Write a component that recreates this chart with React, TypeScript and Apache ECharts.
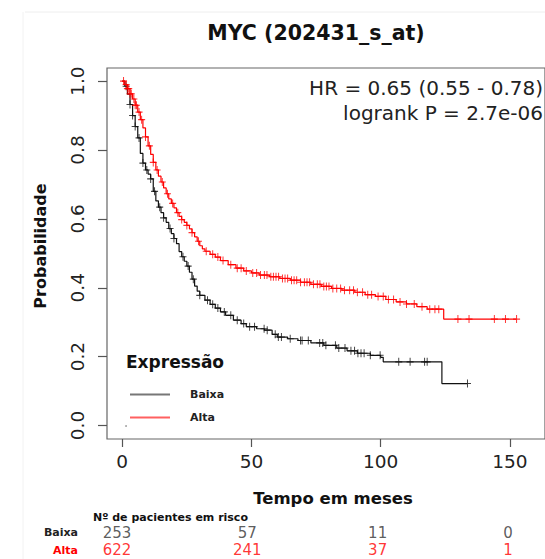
import React, { useEffect, useRef } from "react";
import * as echarts from "echarts";

// ---- data ----
const titleText = "MYC (202431_s_at)";
const hrText = "HR = 0.65 (0.55 - 0.78)";
const pText = "logrank P = 2.7e-06";

const xTicks = [0, 50, 100, 150];
const yTicks = [0, 0.2, 0.4, 0.6, 0.8, 1.0];

// Kaplan-Meier step points [time (months), survival] — Alta (high expression)
const altaCurve: [number, number][] = [
  [0, 1], [1, 0.99], [2, 0.978], [3, 0.963], [4, 0.948], [5, 0.93], [6, 0.91], [7, 0.888],
  [8, 0.864], [9, 0.838], [10, 0.812], [11, 0.787], [12, 0.764], [13, 0.742], [14, 0.724],
  [15, 0.707], [16, 0.69], [17, 0.673], [18, 0.658], [19, 0.645], [20, 0.632], [21, 0.618],
  [22, 0.607], [23, 0.598], [24, 0.59], [25, 0.581], [26, 0.571], [27, 0.56], [28, 0.548],
  [29, 0.535], [30, 0.522], [31, 0.513], [32, 0.506], [34, 0.497], [36, 0.489], [38, 0.479],
  [41, 0.467], [44, 0.457], [47, 0.449], [50, 0.443], [53, 0.437], [57, 0.432], [61, 0.427],
  [65, 0.422], [69, 0.416], [73, 0.41], [77, 0.404], [81, 0.398], [85, 0.393], [90, 0.387],
  [94, 0.38], [98, 0.375], [102, 0.366], [106, 0.359], [110, 0.353], [114, 0.345], [118, 0.338],
  [124.4, 0.309], [152.6, 0.309],
];

// Baixa (low expression)
const baixaCurve: [number, number][] = [
  [0, 1], [1, 0.985], [2, 0.962], [3, 0.932], [4, 0.9], [5, 0.868], [6, 0.835], [7, 0.79],
  [8, 0.762], [9, 0.742], [10, 0.73], [11, 0.716], [12, 0.68], [13, 0.652], [14, 0.634],
  [15, 0.618], [16, 0.603], [17, 0.59], [18, 0.572], [19, 0.557], [20, 0.543], [21, 0.528],
  [22, 0.505], [23, 0.49], [24, 0.477], [25, 0.463], [26, 0.445], [27, 0.425], [28, 0.405],
  [29, 0.39], [30, 0.378], [32, 0.364], [34, 0.352], [36, 0.341], [38, 0.33], [40, 0.32],
  [43, 0.306], [46, 0.296], [48, 0.287], [52, 0.281], [55, 0.277], [58, 0.265], [60, 0.257],
  [64, 0.252], [68, 0.247], [73, 0.24], [78, 0.233], [83, 0.225], [87, 0.217], [91, 0.21],
  [96, 0.204], [100, 0.198], [101, 0.185], [123.7, 0.122], [133.6, 0.122],
];

// censoring times (months)
const altaCensor = [
  0.5, 1.5, 2, 2.5, 3, 3.5, 4.5, 5, 5.5, 6.5, 7.5, 9, 10.5, 12, 13.5, 15.5, 17.5, 19.5, 21.5, 23,
  25, 27, 29.5, 32.5, 35, 37, 39, 42, 44.5, 46, 48, 50.5, 52, 53.5, 55, 56, 57.5, 58.5, 59.5,
  60.5, 62, 63, 64, 65.5, 66.5, 67.5, 69, 70.5, 71.5, 72.5, 74, 75.5, 76.5, 78, 79, 80, 81.5, 83,
  84.5, 86, 88, 89.5, 91, 93, 95, 96.5, 99, 101, 103, 105, 107.5, 110, 113, 116, 119, 121, 122.5,
  129.9, 134.2, 144, 148.3, 152.6,
];
const baixaCensor = [
  1.5, 3, 4, 5, 6.5, 8, 9.5, 11, 12.5, 14.5, 16, 18.5, 20, 23.5, 25.5, 27.5, 30, 33, 35, 37, 39.5,
  42, 44.5, 47, 49.3, 51.2, 54.9, 56.1, 59.2, 60.4, 61.6, 65, 69, 69.6, 72, 76.4, 77.6, 78.8,
  82.5, 83.8, 86.2, 88.5, 89.9, 91.2, 92.4, 93.6, 96, 99.8, 107, 111.4, 117, 118, 133.6,
];

// numbers at risk
const riskGroups = ["Baixa", "Alta"];
const riskTimes = [0, 50, 100, 150];
const riskBaixa = [253, 57, 11, 0];
const riskAlta = [622, 241, 37, 1];

// ---- helpers ----
const survAt = (curve: [number, number][], t: number) => {
  let s = curve[0][1];
  for (const [ti, si] of curve) if (ti <= t) s = si;
  return s;
};

const FONT = "DejaVu Sans";
const RED = "#ff0000";
const BLACK = "#111111";
const PLUS = "path://M4.3,0H5.7V4.3H10V5.7H5.7V10H4.3V5.7H0V4.3H4.3Z";

export default function App() {
  const ref = useRef<HTMLDivElement>(null);

  useEffect(() => {
    if (!ref.current) return;
    const chart = echarts.init(ref.current, null, { renderer: "svg" });

    const option: any = {
      animation: false,
      backgroundColor: "#ffffff",
      textStyle: { fontFamily: FONT },
      grid: [
        {
          left: 107, top: 68, width: 460, height: 371, show: true,
          borderColor: "#666", borderWidth: 1.2, backgroundColor: "transparent",
        },
        { left: 117, top: 524, width: 391, height: 36 },
      ],
      legend: {
        left: 125, top: 384, orient: "vertical", icon: "rect",
        itemWidth: 40, itemHeight: 2, itemGap: 12,
        textStyle: { fontFamily: FONT, fontSize: 11, fontWeight: "bold", color: "#222", padding: [0, 0, 0, 15] },
        data: [
          { name: "Baixa", itemStyle: { color: "#777" } },
          { name: "Alta", itemStyle: { color: "#ff6060" } },
        ],
      },
      xAxis: [
        {
          type: "value", gridIndex: 0, min: -5.9, max: 163.6, position: "bottom",
          axisLine: { show: false, onZero: false }, splitLine: { show: false },
          axisTick: { show: true, inside: false, length: 8, lineStyle: { color: "#555", width: 1.2 }, customValues: xTicks },
          axisLabel: { customValues: xTicks, fontSize: 18.5, color: "#222", margin: 13, fontFamily: FONT },
        },
        { type: "value", gridIndex: 1, min: 0, max: 150, show: false },
      ],
      yAxis: [
        {
          type: "value", gridIndex: 0, min: -0.039, max: 1.038, position: "left",
          axisLine: { show: false, onZero: false }, splitLine: { show: false },
          axisTick: { show: true, inside: false, length: 9, lineStyle: { color: "#555", width: 1.2 }, customValues: yTicks },
          axisLabel: {
            customValues: yTicks, rotate: 90, fontSize: 18.5, color: "#222", margin: 20, fontFamily: FONT,
            formatter: (v: number) => v.toFixed(1),
          },
        },
        {
          type: "category", gridIndex: 1, data: riskGroups, inverse: true,
          axisLine: { show: false }, axisTick: { show: false }, splitLine: { show: false },
          axisLabel: {
            margin: 39,
            formatter: (v: string) => (v === "Alta" ? `{a|${v}}` : `{b|${v}}`),
            rich: {
              a: { fontFamily: FONT, fontSize: 11, fontWeight: "bold", color: RED },
              b: { fontFamily: FONT, fontSize: 11, fontWeight: "bold", color: "#222" },
            },
          },
        },
      ],
      series: [
        {
          name: "Baixa", type: "line", step: "end", xAxisIndex: 0, yAxisIndex: 0,
          data: baixaCurve, showSymbol: false, symbol: "none",
          lineStyle: { color: BLACK, width: 1.2 }, itemStyle: { color: BLACK }, z: 3,
        },
        {
          name: "Alta", type: "line", step: "end", xAxisIndex: 0, yAxisIndex: 0,
          data: altaCurve, showSymbol: false, symbol: "none",
          lineStyle: { color: RED, width: 1.2 }, itemStyle: { color: RED }, z: 4,
        },
        {
          name: "Baixa censored", type: "scatter", xAxisIndex: 0, yAxisIndex: 0,
          data: baixaCensor.map((t) => [t, survAt(baixaCurve, t)]),
          symbol: PLUS, symbolSize: [7, 8], itemStyle: { color: BLACK }, z: 3,
        },
        {
          name: "Alta censored", type: "scatter", xAxisIndex: 0, yAxisIndex: 0,
          data: altaCensor.map((t) => [t, survAt(altaCurve, t)]),
          symbol: PLUS, symbolSize: [7, 8], itemStyle: { color: RED }, z: 4,
        },
        {
          name: "risk Baixa", type: "scatter", xAxisIndex: 1, yAxisIndex: 1,
          data: riskTimes.map((t, i) => [t, "Baixa", riskBaixa[i]]),
          symbolSize: 1, itemStyle: { color: "rgba(0,0,0,0)" },
          label: { show: true, position: "inside", formatter: (p: any) => String(p.value[2]), fontSize: 15, color: "#333", fontFamily: FONT },
        },
        {
          name: "risk Alta", type: "scatter", xAxisIndex: 1, yAxisIndex: 1,
          data: riskTimes.map((t, i) => [t, "Alta", riskAlta[i]]),
          symbolSize: 1, itemStyle: { color: "rgba(0,0,0,0)" },
          label: { show: true, position: "inside", formatter: (p: any) => String(p.value[2]), fontSize: 15, color: RED, fontFamily: FONT },
        },
      ],
      graphic: [
        { type: "line", shape: { x1: 25, y1: 12, x2: 545, y2: 12 }, style: { stroke: "#eeeeee", lineWidth: 1 } },
        { type: "line", shape: { x1: 23, y1: 12, x2: 23, y2: 559 }, style: { stroke: "#f2f2f2", lineWidth: 1 } },
        {
          type: "text", x: 316, y: 33,
          style: { text: titleText, font: `bold 20.5px "${FONT}"`, fill: "#111", textAlign: "center", textVerticalAlign: "middle" },
        },
        {
          type: "text", x: 543, y: 88,
          style: { text: hrText, font: `20px "${FONT}"`, fill: "#222", textAlign: "right", textVerticalAlign: "middle" },
        },
        {
          type: "text", x: 543, y: 113,
          style: { text: pText, font: `20px "${FONT}"`, fill: "#222", textAlign: "right", textVerticalAlign: "middle" },
        },
        {
          type: "text", x: 40, y: 246, rotation: Math.PI / 2,
          style: { text: "Probabilidade", font: `bold 16px "${FONT}"`, fill: "#111", textAlign: "center", textVerticalAlign: "middle" },
        },
        {
          type: "text", x: 333, y: 498,
          style: { text: "Tempo em meses", font: `bold 16.5px "${FONT}"`, fill: "#111", textAlign: "center", textVerticalAlign: "middle" },
        },
        {
          type: "text", x: 126, y: 362,
          style: { text: "Expressão", font: `bold 17px "${FONT}"`, fill: "#111", textAlign: "left", textVerticalAlign: "middle" },
        },
        {
          type: "text", x: 93, y: 517,
          style: { text: "Nº de pacientes em risco", font: `bold 11px "${FONT}"`, fill: "#111", textAlign: "left", textVerticalAlign: "middle" },
        },
        { type: "circle", shape: { cx: 126, cy: 426, r: 0.9 }, style: { fill: "#999" } },
      ],
    };

    chart.setOption(option);
    return () => chart.dispose();
  }, []);

  return (
    <div
      ref={ref}
      style={{ position: "absolute", left: 0, top: 0, width: 545, height: 559, background: "#fff" }}
    />
  );
}
